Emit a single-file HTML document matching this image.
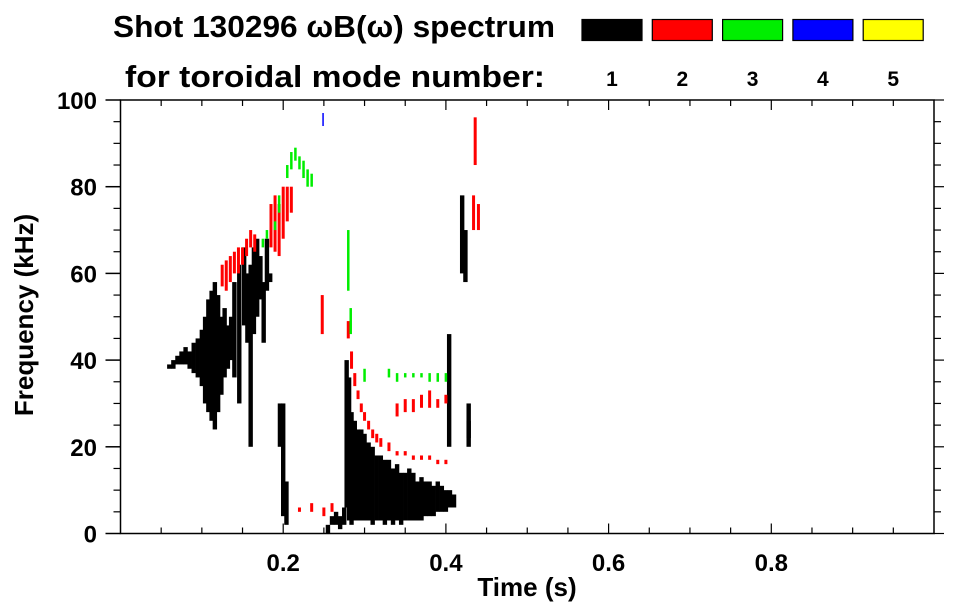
<!DOCTYPE html>
<html><head><meta charset="utf-8"><style>
html,body{margin:0;padding:0;background:#fff;}
svg{display:block;font-family:"Liberation Sans",Arial,sans-serif;font-weight:bold;}
</style></head><body>
<svg id="chart" width="963" height="615" viewBox="0 0 963 615">
<text x="113" y="37" font-size="31" textLength="442" lengthAdjust="spacingAndGlyphs">Shot 130296 ωB(ω) spectrum</text>
<text x="125" y="87" font-size="31" textLength="420" lengthAdjust="spacingAndGlyphs">for toroidal mode number:</text>
<g id="legend"></g>
<g id="marks"></g>
<g id="axes"></g>
<text x="527" y="596" font-size="26" text-anchor="middle">Time (s)</text>
<text transform="translate(33,315) rotate(-90)" font-size="26" text-anchor="middle">Frequency (kHz)</text>
</svg>
<script>
// ---- data ----
const modeNumbers = [1, 2, 3, 4, 5];
const modeColors = ['#000000', '#ff0000', '#00ee00', '#0000ff', '#ffff00'];
const xTicks = [0.2, 0.4, 0.6, 0.8];
const yTicks = [0, 20, 40, 60, 80, 100];
// mode 1 (black) columns: time, freq low, freq high
const m1Time = [0.060,0.065,0.070,0.075,0.080,0.085,0.090,0.095,0.100,0.104,0.108,0.112,0.116,0.120,0.124,0.128,0.132,0.136,0.140,0.146,0.152,0.156,0.160,0.164,0.168,0.172,0.176,0.180,0.184,0.196,0.200,0.204,0.255,0.260,0.265,0.270,0.275,0.278,0.281,0.284,0.288,0.292,0.296,0.300,0.305,0.310,0.315,0.320,0.325,0.330,0.335,0.340,0.345,0.350,0.355,0.360,0.365,0.370,0.375,0.380,0.385,0.390,0.395,0.400,0.405,0.410,0.404,0.420,0.424,0.428,0.428];
const m1Low  = [38,38,39,39,39,38,37,36,34,30,28,26,24,28,32,36,38,40,36,30,48,44,20,46,50,54,44,56,58,20,4,2,0,2,2,1,2,6,3,2,3,3,3,3,3,2,3,3,2,3,2,3,2,3,3,3,3,3,4,4,4,5,5,5,6,6,20,60,58,22,20];
const m1High = [39,40,41,42,43,42,44,45,47,50,54,56,58,55,50,52,48,50,58,62,66,60,62,66,68,64,58,68,60,30,30,12,2,4,5,4,6,40,36,28,26,24,24,23,21,20,18,18,17,17,15,16,14,14,15,14,12,13,12,12,11,12,11,10,10,9,46,78,70,30,26];
// mode 2 (red) columns
const m2Time = [0.125,0.130,0.135,0.140,0.145,0.150,0.155,0.160,0.165,0.185,0.190,0.195,0.200,0.205,0.210,0.220,0.235,0.250,0.260,0.280,0.284,0.288,0.292,0.296,0.300,0.305,0.310,0.315,0.320,0.330,0.340,0.350,0.360,0.370,0.380,0.390,0.400,0.340,0.350,0.360,0.370,0.380,0.390,0.400,0.434,0.436,0.440,0.248];
const m2Low  = [57,56,58,60,60,62,64,66,65,66,65,64,68,72,74,5,5,4,5,45,38,34,31,28,26,24,22,21,20,19,18,18,17,17,17,16,16,27,28,28,29,29,29,30,70,85,70,46];
const m2High = [62,63,64,65,66,66,68,70,69,76,78,76,80,80,80,6,7,6,7,49,42,37,33,30,28,26,24,23,22,21,19,19,18,18,18,17,17,30,31,31,32,33,31,32,78,96,76,55];
// mode 3 (green)
const m3Time = [0.175,0.180,0.190,0.195,0.205,0.210,0.215,0.220,0.225,0.230,0.235,0.280,0.283,0.300,0.330,0.340,0.350,0.360,0.370,0.380,0.390,0.400];
const m3Low  = [66,68,70,74,82,84,86,84,82,80,80,56,46,35,36,35,36,36,36,35,35,35];
const m3High = [68,70,72,78,85,88,89,87,86,84,83,70,52,38,38,37,37,37,37,37,37,37];
// mode 4 (blue)
const m4Time = [0.249];
const m4Low  = [94];
const m4High = [97];

// ---- scales ----
const X0 = 120.5, X1 = 934, Y0 = 533.5, Y1 = 100;
const xs = t => X0 + t * (X1 - X0) / 1.0;
const ys = f => Y0 - f * (Y0 - Y1) / 100;
const NS = 'http://www.w3.org/2000/svg';
function mk(tag, attrs, parent) {
  const e = document.createElementNS(NS, tag);
  for (const k in attrs) e.setAttribute(k, attrs[k]);
  parent.appendChild(e); return e;
}
const marks = document.getElementById('marks');
function drawMode(times, lows, highs, color, name, w) {
  for (let i = 0; i < times.length; i++) {
    const r = mk('rect', {x: xs(times[i]) - w / 2, y: ys(highs[i]), width: w, height: Math.max(2, ys(lows[i]) - ys(highs[i])), fill: color}, marks);
    
    
  }
}
drawMode(m1Time, m1Low, m1High, modeColors[0], 'mode-1-column', 4.4);
drawMode(m2Time, m2Low, m2High, modeColors[1], 'mode-2-column', 3);
drawMode(m3Time, m3Low, m3High, modeColors[2], 'mode-3-column', 2.5);
drawMode(m4Time, m4Low, m4High, modeColors[3], 'mode-4-column', 1.5);

// ---- legend ----
const legend = document.getElementById('legend');
modeNumbers.forEach((n, i) => {
  const x = 582 + i * 70.3;
  const r = mk('rect', {x: x, y: 19.5, width: 60, height: 21, fill: modeColors[i], stroke: '#000', 'stroke-width': 1.2}, legend);
  
  
  const t = mk('text', {x: x + 30, y: 86, 'font-size': 21, 'text-anchor': 'middle'}, legend);
  t.textContent = n;
  
  
});

// ---- axes ----
const ax = document.getElementById('axes');
const frame = mk('rect', {x: X0, y: Y1, width: X1 - X0, height: Y0 - Y1, fill: 'none', stroke: '#000', 'stroke-width': 1.5}, ax);


for (let k = 1; k < 20; k++) {
  const x = xs(k * 0.05);
  const major = k % 4 === 0;
  const L = major ? 10 : 6;
  mk('line', {x1: x, x2: x, y1: Y0, y2: Y0 - L, stroke: '#000', 'stroke-width': 1.2}, ax);
  mk('line', {x1: x, x2: x, y1: Y1, y2: Y1 + L, stroke: '#000', 'stroke-width': 1.2}, ax);
}
for (let k = 0; k <= 20; k++) {
  const y = ys(k * 5);
  const major = k % 4 === 0;
  if (major) {
    mk('line', {x1: X0 - 15, x2: X0, y1: y, y2: y, stroke: '#000', 'stroke-width': 1.5}, ax);
  } else {
    mk('line', {x1: X0, x2: X0 - 7, y1: y, y2: y, stroke: '#000', 'stroke-width': 1.2}, ax);
  }
  mk('line', {x1: X1, x2: X1 + (major ? 10 : 7), y1: y, y2: y, stroke: '#000', 'stroke-width': 1.2}, ax);
}
xTicks.forEach(v => {
  const t = mk('text', {x: xs(v), y: 571, 'font-size': 24, 'text-anchor': 'middle'}, ax);
  t.textContent = v.toFixed(1);
  
  
});
yTicks.forEach(v => {
  const t = mk('text', {x: 97, y: ys(v) + 9, 'font-size': 24, 'text-anchor': 'end'}, ax);
  t.textContent = v;
  
  
});
</script>
</body></html>
